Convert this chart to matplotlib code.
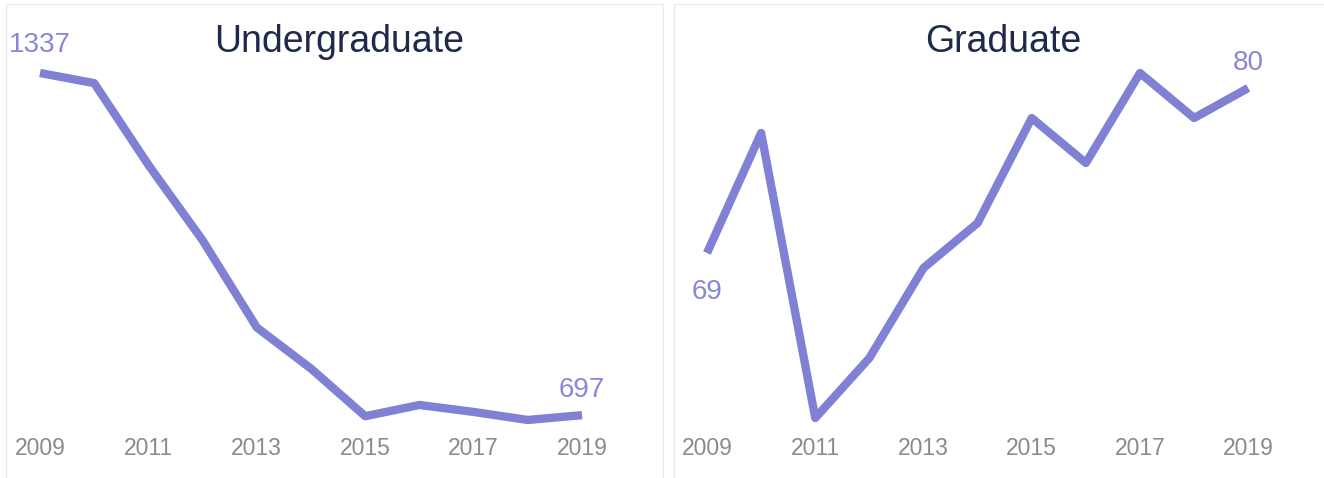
import matplotlib.pyplot as plt
from matplotlib.patches import Rectangle

# Dati
years = [2009, 2010, 2011, 2012, 2013, 2014, 2015, 2016, 2017, 2018, 2019]
undergrad = [1337, 1318, 1165, 1024, 861, 784, 695, 716, 703, 688, 697]
graduate = [69, 77, 58, 62, 68, 71, 78, 75, 81, 78, 80]
tick_years = [2009, 2011, 2013, 2015, 2017, 2019]

line_color = '#8080d4'
label_color = '#8787d8'
title_color = '#1e2a4a'
tick_color = '#8a8a8a'
border_color = '#e6ecec'

plt.rcParams['font.family'] = ['Liberation Sans', 'DejaVu Sans']

W, H = 1324, 478
fig = plt.figure(figsize=(W / 100, H / 100), dpi=100)

# Cornici dei pannelli
fig.patches.append(Rectangle((6 / W, -0.01), 657 / W, (478 - 4) / H + 0.01,
                             transform=fig.transFigure, fill=False,
                             edgecolor=border_color, lw=1))
fig.patches.append(Rectangle((674 / W, -0.01), 0.6, (478 - 4) / H + 0.01,
                             transform=fig.transFigure, fill=False,
                             edgecolor=border_color, lw=1))


def pannello(rect, values, xlim, ylim, title, first_off, last_off):
    ax = fig.add_axes(rect)
    ax.plot(years, values, color=line_color, lw=6,
            solid_capstyle='butt', solid_joinstyle='round')
    ax.set_xlim(*xlim)
    ax.set_ylim(*ylim)
    ax.set_xticks(tick_years)
    ax.set_xticklabels([str(y) for y in tick_years])
    ax.tick_params(axis='x', length=0, pad=1, labelsize=16.5, labelcolor=tick_color)
    ax.set_yticks([])
    for s in ax.spines.values():
        s.set_visible(False)
    ax.patch.set_alpha(0)
    ax.text(0.507, 0.912, title, transform=ax.transAxes, ha='center', va='center',
            fontsize=27, color=title_color)
    ax.annotate(str(values[0]), (years[0], values[0]), xytext=(0, first_off),
                textcoords='offset points', ha='center', va='center',
                fontsize=20, color=label_color)
    ax.annotate(str(values[-1]), (years[-1], values[-1]), xytext=(0, last_off),
                textcoords='offset points', ha='center', va='center',
                fontsize=20, color=label_color)
    return ax


bottom = (478 - 436) / H
height = (436 - 4) / H

pannello([6 / W, bottom, 657 / W, height], undergrad,
         (2008.373, 2020.494), (658, 1466), 'Undergraduate', 20, 18)
pannello([674 / W, bottom, 650 / W, height], graduate,
         (2008.39, 2020.40), (56.8, 85.6), 'Graduate', -28, 18)

fig.savefig('out.png', dpi=100, facecolor='white')
